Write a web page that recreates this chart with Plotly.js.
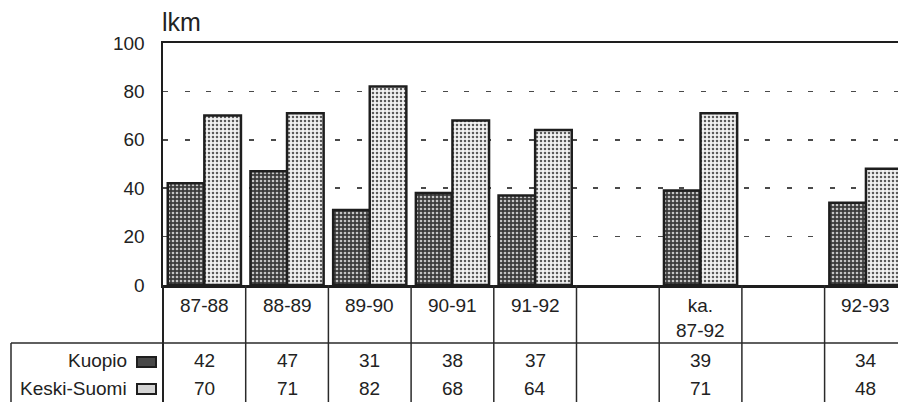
<!DOCTYPE html>
<html>
<head>
<meta charset="utf-8">
<script src="https://cdn.plot.ly/plotly-3.0.1.min.js"></script>
<style>html,body{margin:0;padding:0;background:#fff;}#chart{width:898px;height:402px;}</style>
</head>
<body>
<div id="chart"></div>
<script>
// ---- data ----
var categories = ['87-88', '88-89', '89-90', '90-91', '91-92', '', 'ka.<br>87-92', '', '92-93'];
var kuopio      = [42, 47, 31, 38, 37, null, 39, null, 34];
var keskiSuomi  = [70, 71, 82, 68, 64, null, 71, null, 48];
var seriesNames = ['Kuopio', 'Keski-Suomi'];
var yTicks      = [0, 20, 40, 60, 80, 100];
var unitLabel   = 'lkm';

// ---- layout helpers (pixel -> paper) ----
var W = 898, H = 402, L = 163, T = 43, B = 285;
var plotW = W - L, plotH = B - T;
function py(y) { return (B - y) / plotH; }
function px(x) { return (x - L) / plotW; }

var FONT = '"Liberation Sans", Arial, Helvetica, sans-serif';
var INK = '#222';
var idx = categories.map(function (c, i) { return i; });

var traces = [
  {
    type: 'bar', name: seriesNames[0], x: idx, y: kuopio,
    marker: {
      color: '#404040',
      line: { color: '#1e1e1e', width: 2.5 },
      pattern: { shape: '.', fillmode: 'replace', bgcolor: '#3a3a3a', fgcolor: '#c4c4c4', size: 4, solidity: 0.35 }
    },
    hoverinfo: 'skip'
  },
  {
    type: 'bar', name: seriesNames[1], x: idx, y: keskiSuomi,
    marker: {
      color: '#dddddd',
      line: { color: '#1e1e1e', width: 2.5 },
      pattern: { shape: '.', fillmode: 'replace', bgcolor: '#f2f2f2', fgcolor: '#5a5a5a', size: 4, solidity: 0.32 }
    },
    hoverinfo: 'skip'
  }
];

var annotations = [];
var shapes = [];

// unit label
annotations.push({
  text: unitLabel, xref: 'paper', yref: 'paper', x: px(160), y: py(22),
  xanchor: 'left', yanchor: 'middle', showarrow: false,
  font: { family: FONT, size: 25, color: INK }
});

// header row: category labels
categories.forEach(function (c, i) {
  if (!c) return;
  annotations.push({
    text: c, xref: 'x', yref: 'paper', x: i, y: py(293),
    xanchor: 'center', yanchor: 'top', showarrow: false,
    font: { family: FONT, size: 19, color: INK }
  });
});

// value rows
var rows = [kuopio, keskiSuomi];
var rowY = [360, 388];
rows.forEach(function (vals, r) {
  vals.forEach(function (v, i) {
    if (v === null) return;
    annotations.push({
      text: String(v), xref: 'x', yref: 'paper', x: i, y: py(rowY[r]),
      xanchor: 'center', yanchor: 'middle', showarrow: false,
      font: { family: FONT, size: 19, color: INK }
    });
  });
  annotations.push({
    text: seriesNames[r], xref: 'paper', yref: 'paper', x: px(129), y: py(rowY[r]),
    xanchor: 'right', yanchor: 'middle', showarrow: false,
    font: { family: FONT, size: 19, color: INK }
  });
});

// legend swatches in row labels
var swatchFill = ['#484848', '#d4d4d4'];
var swatchY = [[357, 367], [384, 394]];
swatchY.forEach(function (yy, r) {
  shapes.push({
    type: 'rect', xref: 'paper', yref: 'paper',
    x0: px(137), x1: px(156), y0: py(yy[0]), y1: py(yy[1]),
    fillcolor: swatchFill[r], line: { color: '#1e1e1e', width: 2 }
  });
});

// table grid lines
var lineStyle = { color: '#2a2a2a', width: 1.5 };
for (var i = 1; i < categories.length; i++) {
  shapes.push({ type: 'line', xref: 'x', yref: 'paper', x0: i - 0.5, x1: i - 0.5, y0: 0, y1: py(420), line: lineStyle });
}
shapes.push({ type: 'line', xref: 'paper', yref: 'paper', x0: 0, x1: 0, y0: 0, y1: py(420), line: { color: '#222', width: 2 } });
shapes.push({ type: 'line', xref: 'paper', yref: 'paper', x0: px(11), x1: 1, y0: py(343), y1: py(343), line: lineStyle });
shapes.push({ type: 'line', xref: 'paper', yref: 'paper', x0: px(11), x1: px(11), y0: py(343), y1: py(420), line: lineStyle });

var layout = {
  width: W, height: H,
  margin: { l: L, r: 0, t: T, b: H - B, pad: 0 },
  paper_bgcolor: '#ffffff', plot_bgcolor: '#ffffff',
  showlegend: false,
  barmode: 'group', bargap: 0.115, bargroupgap: 0,
  font: { family: FONT, color: INK },
  xaxis: {
    range: [-0.5, -0.5 + plotW / 82.7],
    showticklabels: false, ticks: '', showgrid: false, zeroline: false,
    showline: true, mirror: true, linecolor: '#1e1e1e', linewidth: 2.5,
    fixedrange: true
  },
  yaxis: {
    range: [0, 100], tickvals: yTicks, ticktext: yTicks.map(String),
    ticks: 'outside', ticklen: 12, tickcolor: 'rgba(0,0,0,0)',
    tickfont: { family: FONT, size: 19, color: INK },
    showgrid: true, gridcolor: '#4a4a4a', gridwidth: 1.6, griddash: '5px,16.5px',
    zeroline: false, showline: true, linecolor: '#1e1e1e', linewidth: 2.5,
    fixedrange: true
  },
  annotations: annotations,
  shapes: shapes
};

Plotly.newPlot('chart', traces, layout, { staticPlot: true, displayModeBar: false });
</script>
</body>
</html>
